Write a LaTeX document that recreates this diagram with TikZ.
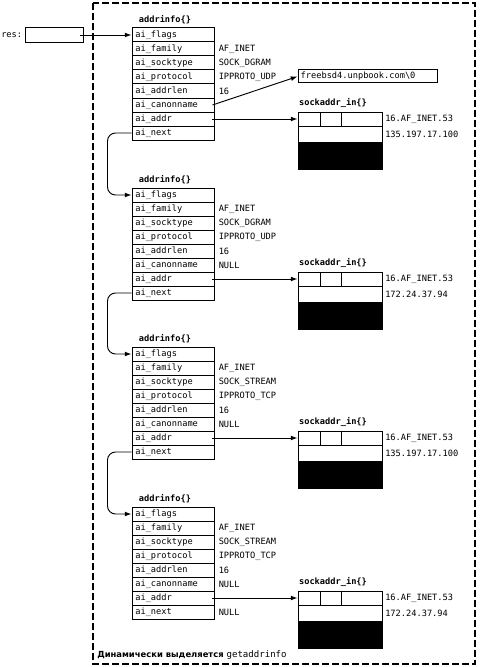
\documentclass[tikz,border=0pt]{standalone}
\usepackage{fontspec}
\setmainfont{DejaVu Sans}
\newfontfamily\mymono{DejaVu Sans Mono}
\usetikzlibrary{arrows.meta}
\tikzset{
  box/.style={draw, line width=0.75pt, inner sep=0pt},
  field/.style={box, minimum width=61.5pt, minimum height=10.5pt, text width=56.5pt, inner xsep=2.5pt, inner ysep=0pt, align=left, font=\mymono\fontsize{6.5}{7}\selectfont, text height=4.8pt, text depth=1.3pt},
  val/.style={anchor=west, inner sep=0pt, font=\mymono\fontsize{6.5}{7}\selectfont},
  ttl/.style={inner sep=0pt, font=\mymono\bfseries\fontsize{6.5}{7}\selectfont},
  cell/.style={box, minimum height=10.5pt},
  blk/.style={draw, fill=black, line width=0.75pt, inner sep=0pt, minimum width=63pt, minimum height=20.25pt},
  arr/.style={line width=0.7pt, -{Latex[length=5pt,width=3.6pt]}},
  frame/.style={line width=1pt, dash pattern=on 5pt off 2.5pt},
}
\newcommand\aitable[2]{%
  \node[ttl] (#1t) at (165,#2-8) {addrinfo\{\}};
  \foreach \f [count=\i from 0] in {ai\_flags,ai\_family,ai\_socktype,ai\_protocol,ai\_addrlen,ai\_canonname,ai\_addr,ai\_next}
    \node[field] (#1r\i) at (173,{#2+7+14*\i}) {\f};
}
\newcommand\aisock[3]{%
  \node[ttl] (#1st) at (333,#2-9) {sockaddr\_in\{\}};
  \node[cell, minimum width=16.5pt] (#1c1) at (309,#2+7) {};
  \node[cell, minimum width=15.75pt] (#1c2) at (330.5,#2+7) {};
  \node[cell, minimum width=30.75pt] (#1c3) at (361.5,#2+7) {};
  \node[cell, minimum width=63pt, minimum height=12pt] (#1c4) at (340,#2+22) {};
  \node[blk] (#1bk) at (340,#2+43.5) {};
  \node[val] (#1s1) at (385,#2+7) {16.AF\_INET.53};
  \node[val] (#1s2) at (385,#2+22) {#3};
}
\begin{document}
\begin{tikzpicture}[x=0.75pt,y=-0.75pt]
\useasboundingbox (0,0) rectangle (480,667);
\draw[frame] (93,3) rectangle (475,664);

% res pointer
\node[anchor=west, inner sep=0pt, font=\mymono\fontsize{6.5}{7}\selectfont] (reslbl) at (1,35) {res:};
\node[box, minimum width=43.5pt, minimum height=11pt] (res) at (54,35) {};
\coordinate (resp) at (80,35);

% tables
\aitable{A}{28}
\aitable{B}{188}
\aitable{C}{347}
\aitable{D}{507}

% values
\node[val] (Av1) at ([xshift=3pt]Ar1.east) {AF\_INET};
\node[val] (Av2) at ([xshift=3pt]Ar2.east) {SOCK\_DGRAM};
\node[val] (Av3) at ([xshift=3pt]Ar3.east) {IPPROTO\_UDP};
\node[val] (Av4) at ([xshift=3pt]Ar4.east) {16};

\node[val] (Bv1) at ([xshift=3pt]Br1.east) {AF\_INET};
\node[val] (Bv2) at ([xshift=3pt]Br2.east) {SOCK\_DGRAM};
\node[val] (Bv3) at ([xshift=3pt]Br3.east) {IPPROTO\_UDP};
\node[val] (Bv4) at ([xshift=3pt]Br4.east) {16};
\node[val] (Bv5) at ([xshift=3pt]Br5.east) {NULL};

\node[val] (Cv1) at ([xshift=3pt]Cr1.east) {AF\_INET};
\node[val] (Cv2) at ([xshift=3pt]Cr2.east) {SOCK\_STREAM};
\node[val] (Cv3) at ([xshift=3pt]Cr3.east) {IPPROTO\_TCP};
\node[val] (Cv4) at ([xshift=3pt]Cr4.east) {16};
\node[val] (Cv5) at ([xshift=3pt]Cr5.east) {NULL};

\node[val] (Dv1) at ([xshift=3pt]Dr1.east) {AF\_INET};
\node[val] (Dv2) at ([xshift=3pt]Dr2.east) {SOCK\_STREAM};
\node[val] (Dv3) at ([xshift=3pt]Dr3.east) {IPPROTO\_TCP};
\node[val] (Dv4) at ([xshift=3pt]Dr4.east) {16};
\node[val] (Dv5) at ([xshift=3pt]Dr5.east) {NULL};
\node[val] (Dv7) at ([xshift=3pt]Dr7.east) {NULL};

% canonical name
\node[box, minimum width=104.25pt, minimum height=9.75pt, text width=100.25pt, inner xsep=2pt, align=left, font=\mymono\fontsize{6.5}{7}\selectfont, text height=4.8pt, text depth=1.3pt] (canon) at (367.5,76.5) {freebsd4.unpbook.com\textbackslash 0};

% socket address structures
\aisock{A}{112}{135.197.17.100}
\aisock{B}{272}{172.24.37.94}
\aisock{C}{431}{135.197.17.100}
\aisock{D}{591}{172.24.37.94}

% connectors
\draw[arr] (resp) -- (Ar0.west);
\draw[arr] ([xshift=-1.5pt]Ar5.east) -- (canon.west);
\foreach \t in {A,B,C,D}
  \draw[arr] ([xshift=-2pt]\t r6.east) -- (\t c1.west);
\draw[arr, rounded corners=6pt] (Ar7.west) -- ++(-24,0) |- (Br0.west);
\draw[arr, rounded corners=6pt] (Br7.west) -- ++(-24,0) |- (Cr0.west);
\draw[arr, rounded corners=6pt] (Cr7.west) -- ++(-24,0) |- (Dr0.west);

% note
\node[anchor=west, inner sep=0pt, font=\fontsize{6.3}{7}\selectfont] (note) at (97,655) {\bfseries Динамически выделяется \mdseries{\mymono\fontsize{6.8}{7}\selectfont getaddrinfo}};
\end{tikzpicture}
\end{document}
